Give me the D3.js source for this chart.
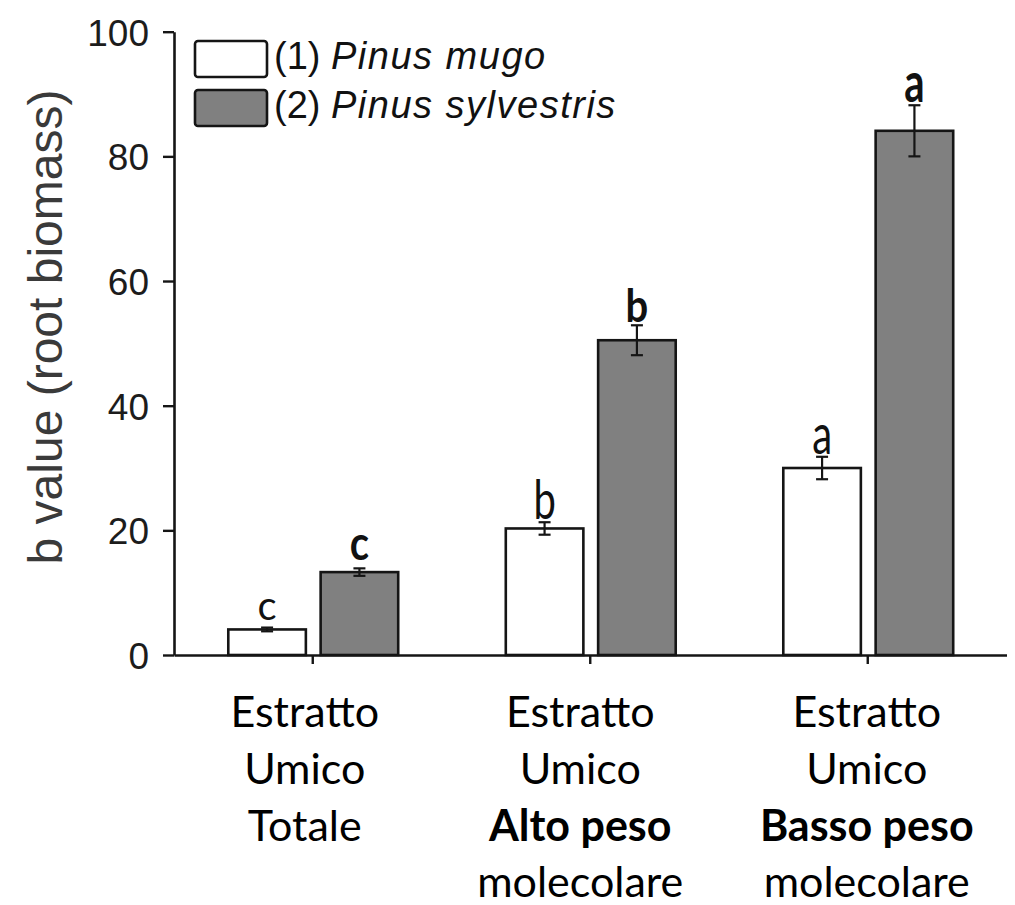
<!DOCTYPE html>
<html>
<head>
<meta charset="utf-8">
<script src="https://cdn.jsdelivr.net/npm/d3@7"></script>
<style>
  html, body { margin: 0; padding: 0; background: #fff; }
  svg { display: block; }
</style>
</head>
<body>
<svg id="chart" width="1015" height="905"></svg>
<script>
// Treatments (humic extract fractions), one label block per group
const categories = ["Totale", "Alto", "Basso"];
const categoryLines = [
  [["Estratto", false], ["Umico", false], ["Totale", false]],
  [["Estratto", false], ["Umico", false], ["Alto peso", true], ["molecolare", false]],
  [["Estratto", false], ["Umico", false], ["Basso peso", true], ["molecolare", false]]
];

// Species series
const seriesNames = ["(1) ", "(2) "];
const speciesNames = ["Pinus mugo", "Pinus sylvestris"];

// b value (root biomass): means and standard errors
const mugoValues = [4.1, 20.3, 30.0];
const mugoErrors = [0.3, 1.0, 1.8];
const sylvestrisValues = [13.3, 50.5, 84.1];
const sylvestrisErrors = [0.6, 2.4, 4.1];

// Significance letters
const mugoLetters = ["c", "b", "a"];
const sylvestrisLetters = ["c", "b", "a"];

const yTicks = [0, 20, 40, 60, 80, 100];

const svg = d3.select("#chart");

const x0 = 174, x1 = 1006.5, yBase = 655, yTop = 31.7;

const x = d3.scaleBand().domain(categories).range([x0, x1]).padding(0);
const xInner = d3.scaleBand().domain([0, 1]).range([-90, 91])
  .paddingInner(0.16).paddingOuter(0.06);
const y = d3.scaleLinear().domain([0, 100]).range([yBase, yTop]);

const fills = ["#ffffff", "#808080"];
const values = [mugoValues, sylvestrisValues];
const errors = [mugoErrors, sylvestrisErrors];
const letters = [mugoLetters, sylvestrisLetters];

const rows = [];
categories.forEach((c, i) => {
  [0, 1].forEach(s => {
    rows.push({ cat: c, s, v: values[s][i], e: errors[s][i], letter: letters[s][i] });
  });
});

// Bars
svg.append("g").selectAll("rect").data(rows).join("rect")
  .attr("x", d => x(d.cat) + x.bandwidth() / 2 + xInner(d.s))
  .attr("y", d => y(d.v))
  .attr("width", xInner.bandwidth())
  .attr("height", d => y(0) - y(d.v))
  .attr("fill", d => fills[d.s])
  .attr("stroke", "#151515")
  .attr("stroke-width", 2.6);

// Error bars
const eg = svg.append("g").attr("stroke", "#151515").attr("stroke-width", 2.2);
rows.forEach(d => {
  const cx = x(d.cat) + x.bandwidth() / 2 + xInner(d.s) + xInner.bandwidth() / 2;
  const yHi = y(d.v + d.e), yLo = y(d.v - d.e);
  eg.append("line").attr("x1", cx).attr("x2", cx).attr("y1", yHi).attr("y2", yLo);
  eg.append("line").attr("x1", cx - 6).attr("x2", cx + 6).attr("y1", yHi).attr("y2", yHi);
  eg.append("line").attr("x1", cx - 6).attr("x2", cx + 6).attr("y1", yLo).attr("y2", yLo);
});

// Significance letters (first species regular, second bold)
const letterStretch = { "c0": 1.0, "c1": 1.2, "b0": 1.35, "b1": 1.15, "a0": 1.4, "a1": 1.4 };
svg.append("g").selectAll("text").data(rows).join("text")
  .attr("transform", d => {
    const cx = x(d.cat) + x.bandwidth() / 2 + xInner(d.s) + xInner.bandwidth() / 2;
    const by = y(d.v + d.e) - (d.letter === "c" ? 8 : 3);
    return `translate(${cx},${by}) scale(1,${letterStretch[d.letter + d.s]})`;
  })
  .attr("text-anchor", "middle")
  .attr("font-family", "Lato, 'Open Sans', sans-serif")
  .attr("font-size", 40)
  .attr("font-weight", d => d.s === 1 ? 700 : 400)
  .attr("fill", "#111")
  .text(d => d.letter);

// Y axis
const yAxis = svg.append("g")
  .attr("transform", `translate(${x0},0)`)
  .call(d3.axisLeft(y).tickValues(yTicks).tickSize(11).tickPadding(14).tickSizeOuter(0));
yAxis.select(".domain").attr("stroke", "#151515").attr("stroke-width", 2.6);
yAxis.selectAll(".tick line").attr("stroke", "#151515").attr("stroke-width", 2.4);
yAxis.selectAll(".tick text")
  .attr("font-family", "'Liberation Sans', Arial, sans-serif")
  .attr("font-size", 37)
  .attr("fill", "#1c1c1c")
  .attr("dy", "0.36em");

// X axis: baseline with small ticks at group centres
const xAxis = svg.append("g")
  .attr("transform", `translate(0,${yBase})`)
  .call(d3.axisBottom(x).tickSize(9).tickSizeOuter(0).tickFormat(""));
xAxis.select(".domain").attr("stroke", "#151515").attr("stroke-width", 2.6);
xAxis.selectAll(".tick line").attr("stroke", "#151515").attr("stroke-width", 2.4);

// Category labels below the axis
const labelShift = [-8, -10, -1];
const lineY = [727, 784, 841, 897];
categories.forEach((c, i) => {
  const t = svg.append("text")
    .attr("text-anchor", "middle")
    .attr("font-family", "Lato, 'Open Sans', sans-serif")
    .attr("font-size", 43)
    .attr("fill", "#000");
  categoryLines[i].forEach(([txt, bold], j) => {
    t.append("tspan")
      .attr("x", x(c) + x.bandwidth() / 2 + labelShift[i])
      .attr("y", lineY[j])
      .attr("font-weight", bold ? 700 : 400)
      .text(txt);
  });
});

// Y axis title
svg.append("text")
  .attr("transform", `translate(62,327) rotate(-90)`)
  .attr("text-anchor", "middle")
  .attr("font-family", "'Liberation Sans', Arial, sans-serif")
  .attr("font-size", 48)
  .attr("fill", "#3a3a3a")
  .text("b value (root biomass)");

// Legend
const legend = svg.append("g").attr("transform", "translate(195,41)");
[0, 1].forEach(s => {
  const g = legend.append("g").attr("transform", `translate(0,${s * 49})`);
  g.append("rect")
    .attr("width", 72).attr("height", 36).attr("rx", 3)
    .attr("fill", fills[s]).attr("stroke", "#151515").attr("stroke-width", 2.6);
  const t = g.append("text")
    .attr("x", 79).attr("y", 28)
    .attr("font-family", "'Liberation Sans', Arial, sans-serif")
    .attr("font-size", 38)
    .attr("fill", "#111");
  t.append("tspan").text(seriesNames[s]);
  t.append("tspan").attr("font-style", "italic").attr("letter-spacing", 1.5).text(speciesNames[s]);
});
</script>
</body>
</html>
